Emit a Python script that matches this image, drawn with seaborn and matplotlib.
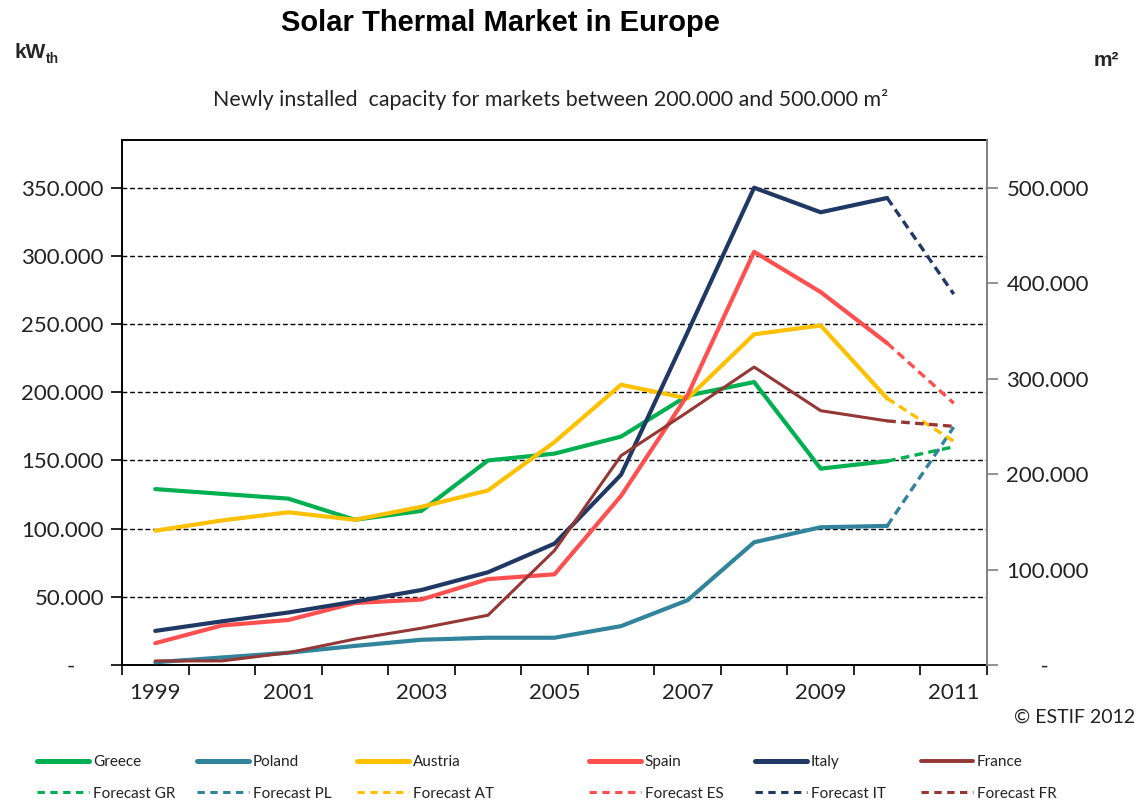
import matplotlib
matplotlib.use("Agg")
import matplotlib.pyplot as plt
import numpy as np
import pandas as pd
import seaborn as sns
from matplotlib.lines import Line2D
from matplotlib.ticker import FixedLocator, FuncFormatter

# ---------------- data (kW_th) ----------------
years = list(range(1999, 2011))          # historical years
forecast_years = [2010, 2011]
year_labels = ["1999", "2001", "2003", "2005", "2007", "2009", "2011"]

greece  = [129000, 125500, 122000, 106500, 113000, 150000, 155000, 167500, 197500, 207500, 144000, 149500]
poland  = [2000, 5500, 9000, 14000, 18500, 20000, 20000, 28500, 47500, 90000, 101000, 102000]
austria = [98500, 106000, 112000, 106500, 116000, 128000, 163500, 205500, 195500, 242500, 249000, 195500]
spain   = [16000, 29000, 33000, 45500, 48000, 63000, 66500, 124000, 198000, 303000, 273500, 236000]
italy   = [25000, 32000, 38500, 46500, 55000, 68000, 89000, 139500, 244000, 350000, 332000, 342500]
france  = [3000, 3000, 9000, 19000, 27000, 36500, 84000, 153500, 185500, 218500, 186500, 179000]

fc_greece  = [149500, 160000]
fc_poland  = [102000, 174500]
fc_austria = [195500, 164000]
fc_spain   = [236000, 192000]
fc_italy   = [342500, 272000]
fc_france  = [179000, 175000]

names = ["Greece", "Poland", "Austria", "Spain", "Italy", "France"]
fc_names = ["Forecast GR", "Forecast PL", "Forecast AT", "Forecast ES", "Forecast IT", "Forecast FR"]
colors = ["#00B050", "#31849B", "#FFC000", "#FF4F4F", "#1F3864", "#953735"]
widths = [3.0, 3.0, 3.0, 3.0, 3.0, 2.2]

hist = [greece, poland, austria, spain, italy, france]
fcst = [fc_greece, fc_poland, fc_austria, fc_spain, fc_italy, fc_france]

rows = []
for n, vals in zip(names, hist):
    for y, v in zip(years, vals):
        rows.append({"series": n, "pos": y - 1999, "value": v})
df = pd.DataFrame(rows)
frows = []
for n, vals in zip(fc_names, fcst):
    for y, v in zip(forecast_years, vals):
        frows.append({"series": n, "pos": y - 1999, "value": v})
fdf = pd.DataFrame(frows)

# ---------------- style ----------------
sns.set_style("white")
plt.rcParams["font.family"] = ["Lato", "DejaVu Sans"]

fig = plt.figure(figsize=(11.38, 8.01), dpi=100)
W, H = 1138, 801
ax = fig.add_axes([122 / W, 1 - 665 / H, (987 - 122) / W, (665 - 140) / H])

dash_fc = (0, (2.6, 1.6))
for n, c, lw in zip(names, colors, widths):
    sns.lineplot(data=df[df.series == n], x="pos", y="value", color=c, lw=lw,
                 ax=ax, estimator=None, sort=False, legend=False, zorder=3)
for n, c, lw in zip(fc_names, colors, widths):
    sns.lineplot(data=fdf[fdf.series == n], x="pos", y="value", color=c, lw=2.4,
                 linestyle=dash_fc, ax=ax, estimator=None, sort=False,
                 legend=False, zorder=3)

ax.set_xlim(-0.5, 12.5)
ax.set_ylim(0, 385000)
ax.set_xlabel("")
ax.set_ylabel("")

# x axis: labels at odd years, ticks at category boundaries
ax.xaxis.set_major_locator(FixedLocator([0, 2, 4, 6, 8, 10, 12]))
ax.set_xticklabels(year_labels)
ax.xaxis.set_minor_locator(FixedLocator(np.arange(-0.5, 12.6, 1.0)))
ax.tick_params(axis="x", which="major", length=0, pad=13, labelsize=16, colors="#222222")
ax.tick_params(axis="x", which="minor", length=7, width=1.2, color="black", direction="out", bottom=True)

def kfmt(v, pos=None):
    if abs(v) < 1:
        return "-     "
    return f"{v:,.0f}".replace(",", ".")

ax.yaxis.set_major_locator(FixedLocator(np.arange(0, 350001, 50000)))
ax.yaxis.set_major_formatter(FuncFormatter(kfmt))
ax.tick_params(axis="y", which="major", length=8, width=1.2, color="black",
               direction="out", left=True, pad=5, labelsize=16, labelcolor="#222222")

ax.yaxis.grid(True, color="black", linestyle=(0, (3.5, 2.0)), lw=1.0)
ax.xaxis.grid(False)
ax.set_axisbelow(True)
for s in ["left", "bottom", "top"]:
    ax.spines[s].set_visible(True)
    ax.spines[s].set_color("black")
    ax.spines[s].set_linewidth(1.4)
ax.spines["right"].set_visible(False)

# secondary axis in m2
ax2 = ax.twinx()
ax2.set_ylim(0, 550000)
def mfmt(v, pos=None):
    if abs(v) < 1:
        return "      -"
    return f"{v:,.0f}".replace(",", ".")
ax2.yaxis.set_major_locator(FixedLocator(np.arange(0, 500001, 100000)))
ax2.yaxis.set_major_formatter(FuncFormatter(mfmt))
ax2.tick_params(axis="y", length=8, width=1.2, color="#808080", direction="out",
                pad=6, labelsize=16, labelcolor="#222222")
for s in ["left", "bottom", "top"]:
    ax2.spines[s].set_visible(False)
ax2.spines["right"].set_visible(True)
ax2.spines["right"].set_color("#808080")
ax2.spines["right"].set_linewidth(1.4)
ax2.grid(False)

# ---------------- texts ----------------
fig.text(500 / W, 1 - 23 / H, "Solar Thermal Market in Europe", ha="center", va="center",
         fontsize=21, fontweight="bold", family=["Liberation Sans", "DejaVu Sans"], color="black")
fig.text(551 / W, 1 - 100 / H, "Newly installed  capacity for markets between 200.000 and 500.000 m²",
         ha="center", va="center", fontsize=15.4, color="#222222")
fig.text(14 / W, 1 - 52 / H, "kW", ha="left", va="center", fontsize=15, fontweight="bold",
         family=["Liberation Sans", "DejaVu Sans"])
fig.text(46 / W, 1 - 59 / H, "th", ha="left", va="center", fontsize=10, fontweight="bold",
         family=["Liberation Sans", "DejaVu Sans"])
fig.text(1106 / W, 1 - 60 / H, "m²", ha="center", va="center", fontsize=15, fontweight="bold",
         family=["Liberation Sans", "DejaVu Sans"])
fig.text(1135 / W, 1 - 717 / H, "© ESTIF 2012", ha="right", va="center", fontsize=14, color="#222222")

# ---------------- legend (six columns) ----------------
col_x = [37, 197, 357, 589, 755, 921]
for i in range(6):
    h1 = Line2D([], [], color=colors[i], lw=widths[i] + 0.6, solid_capstyle="round")
    h2 = Line2D([], [], color=colors[i], lw=2.2, linestyle=(0, (2.4, 1.8)))
    fig.legend(handles=[h1, h2], labels=[names[i], fc_names[i]],
               loc="center left", bbox_to_anchor=(col_x[i] / W, 1 - 778 / H),
               frameon=False, fontsize=11, handlelength=3.4, handletextpad=0.25,
               labelspacing=1.15, borderpad=0, borderaxespad=0, labelcolor="#222222")

fig.savefig("out.png", dpi=100)
